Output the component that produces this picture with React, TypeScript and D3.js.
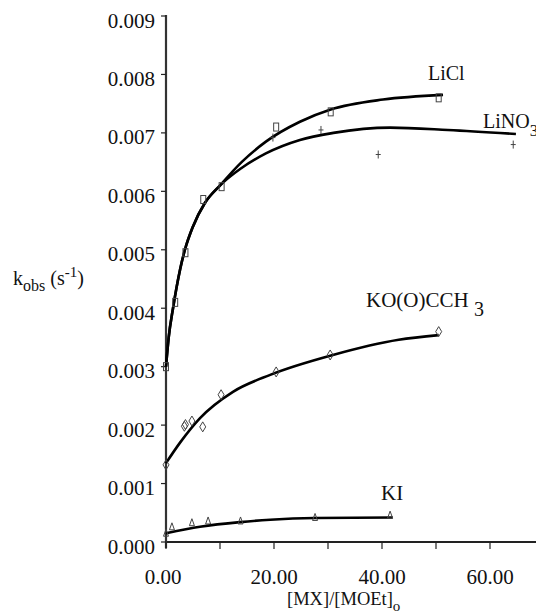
import React, { useRef, useEffect } from 'react';
import * as d3 from 'd3';

// measured points (x = [MX]/[MOEt]o, y = kobs)
const liclPoints = [[0, 0.003], [1.7, 0.0041], [3.6, 0.00495], [6.9, 0.00586], [10.3, 0.00608], [20.4, 0.0071], [30.5, 0.00736], [50.5, 0.0076]];
const lino3Points = [[19.8, 0.00692], [28.7, 0.00705], [39.3, 0.00663], [64.3, 0.0068]];
const koacPoints = [[0, 0.00132], [3.4, 0.00198], [3.6, 0.00201], [4.8, 0.00207], [6.8, 0.00197], [10.2, 0.00252], [20.4, 0.00291], [30.4, 0.0032], [50.5, 0.0036]];
const kiPoints = [[0, 0.00015], [1.1, 0.00026], [4.8, 0.00033], [7.8, 0.00036], [13.8, 0.00036], [27.6, 0.00042], [41.5, 0.00046]];

// fitted curves
const liclFit = [[0, 0.003], [0.5, 0.0035], [1.3, 0.004], [2.6, 0.00466], [3.5, 0.005], [5, 0.0054], [7.2, 0.0058], [10, 0.0061], [14, 0.0065], [18.5, 0.00685], [24.8, 0.00719], [30.5, 0.0074], [40.2, 0.00757], [51.3, 0.00765]];
const lino3Fit = [[0, 0.003], [0.5, 0.0035], [1.3, 0.004], [2.6, 0.00466], [3.5, 0.005], [5, 0.0054], [7.2, 0.0058], [10, 0.0061], [14, 0.0064], [18.5, 0.00665], [24.8, 0.00688], [31, 0.007], [41.5, 0.00709], [52.2, 0.00705], [64.8, 0.00698]];
const koacFit = [[0, 0.00135], [2.6, 0.0017], [6.3, 0.00212], [12.4, 0.00257], [19.3, 0.00286], [30.9, 0.0032], [43.1, 0.00346], [50.5, 0.00354]];
const kiFit = [[0, 0.00015], [6.3, 0.00026], [13.7, 0.00034], [19.3, 0.00038], [27.6, 0.00041], [42, 0.00042]];

const yTicks = [0, 0.001, 0.002, 0.003, 0.004, 0.005, 0.006, 0.007, 0.008, 0.009];
const xTicks = [0, 10, 20, 30, 40, 50, 60];
const xTickLabels = ['0.00', '', '20.00', '', '40.00', '', '60.00'];

const W = 536;
const H = 616;
const FONT = '"Liberation Serif", "Times New Roman", serif';

const Chart = () => {
  const svgRef = useRef(null);

  useEffect(() => {
    const svg = d3.select(svgRef.current);
    svg.selectAll('*').remove();

    const x = d3.scaleLinear().domain([0, 60]).range([166, 490]);
    const y = d3.scaleLinear().domain([0, 0.009]).range([542, 16]);

    const g = svg.append('g').attr('font-family', FONT).attr('fill', '#111');

    // axes
    g.append('line').attr('x1', x(0)).attr('x2', W).attr('y1', y(0)).attr('y2', y(0))
      .attr('stroke', '#222').attr('stroke-width', 2);
    g.append('line').attr('x1', x(0)).attr('x2', x(0)).attr('y1', y(0) + 6).attr('y2', 15)
      .attr('stroke', '#333').attr('stroke-width', 2.2);

    g.selectAll('.ytick').data(yTicks).enter().append('line')
      .attr('x1', x(0) - 5).attr('x2', x(0)).attr('y1', d => y(d)).attr('y2', d => y(d))
      .attr('stroke', '#222').attr('stroke-width', 1.2);
    g.selectAll('.ylab').data(yTicks).enter().append('text')
      .attr('x', 155).attr('y', d => y(d) + 11.5)
      .attr('text-anchor', 'end').attr('font-size', 21)
      .text(d => d.toFixed(3));

    g.selectAll('.xtick').data(xTicks).enter().append('line')
      .attr('x1', d => x(d)).attr('x2', d => x(d)).attr('y1', y(0)).attr('y2', y(0) + 7)
      .attr('stroke', '#222').attr('stroke-width', 1.2);
    g.selectAll('.xlab').data(xTicks).enter().append('text')
      .attr('x', d => x(d) - (d === 0 ? 3 : 0)).attr('y', 584)
      .attr('text-anchor', 'middle').attr('font-size', 21)
      .text((d, i) => xTickLabels[i]);

    // axis titles
    const xt = g.append('text').attr('x', 287).attr('y', 605).attr('font-size', 18.5);
    xt.append('tspan').text('[MX]/[MOEt]');
    xt.append('tspan').attr('dy', 6).attr('font-size', 15).text('o');

    const yt = g.append('text').attr('x', 13).attr('y', 285).attr('font-size', 20);
    yt.append('tspan').text('k');
    yt.append('tspan').attr('dy', 6).attr('font-size', 16).text('obs');
    yt.append('tspan').attr('dy', -6).text(' (s');
    yt.append('tspan').attr('dy', -8).attr('font-size', 15).text('-1');
    yt.append('tspan').attr('dy', 8).text(')');

    // fitted curves
    const line = d3.line().x(d => x(d[0])).y(d => y(d[1])).curve(d3.curveMonotoneX);
    [liclFit, lino3Fit, koacFit, kiFit].forEach(fit => {
      g.append('path').attr('d', line(fit)).attr('fill', 'none')
        .attr('stroke', '#000').attr('stroke-width', 2.6);
    });

    // markers
    const mk = g.append('g').attr('fill', 'none').attr('stroke', '#444').attr('stroke-width', 1);
    mk.selectAll('.sq').data(liclPoints).enter().append('rect')
      .attr('x', d => x(d[0]) - 2.5).attr('y', d => y(d[1]) - 4).attr('width', 5).attr('height', 8);
    mk.selectAll('.pl').data(lino3Points).enter().append('path')
      .attr('d', d => `M${x(d[0]) - 2.5},${y(d[1])}h5M${x(d[0])},${y(d[1]) - 4}v8`);
    mk.selectAll('.dm').data(koacPoints).enter().append('path')
      .attr('d', d => `M${x(d[0])},${y(d[1]) - 5}l3,5l-3,5l-3,-5z`);
    mk.selectAll('.tr').data(kiPoints).enter().append('path')
      .attr('d', d => `M${x(d[0])},${y(d[1]) - 4}l2.5,7h-5z`);

    // series labels
    g.append('text').attr('x', 428).attr('y', 80).attr('font-size', 20).text('LiCl');
    const ln = g.append('text').attr('x', 483).attr('y', 128).attr('font-size', 20);
    ln.append('tspan').text('LiNO');
    ln.append('tspan').attr('dy', 8).attr('font-size', 17).text('3');
    const ko = g.append('text').attr('x', 366).attr('y', 307).attr('font-size', 21);
    ko.append('tspan').text('KO(O)CCH ');
    ko.append('tspan').attr('dy', 9).attr('font-size', 20).text('3');
    g.append('text').attr('x', 381).attr('y', 500).attr('font-size', 21).text('KI');
  }, []);

  return (
    <svg ref={svgRef} width={W} height={H}
      style={{ position: 'absolute', left: 0, top: 0, background: '#fff', display: 'block' }} />
  );
};

export default function App() {
  return <Chart />;
}
